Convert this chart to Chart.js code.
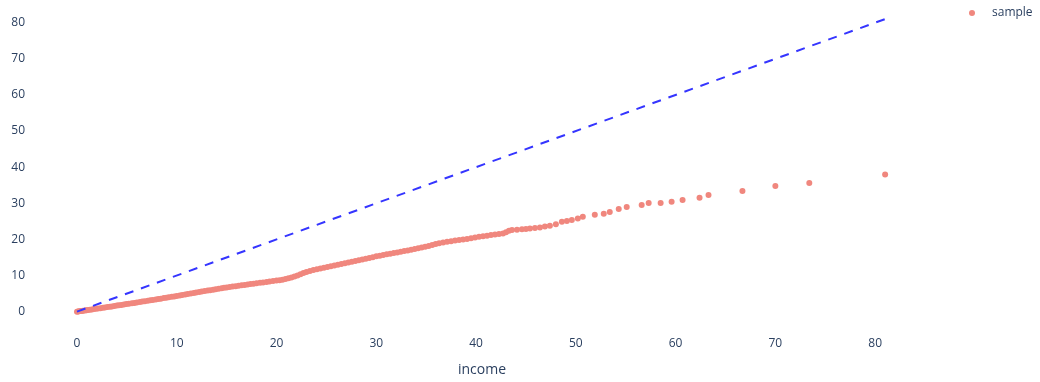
<!DOCTYPE html>
<html>
<head>
<meta charset="utf-8">
<script src="https://cdn.jsdelivr.net/npm/chart.js@4.4.1/dist/chart.umd.min.js"></script>
<style>
  html, body { margin: 0; padding: 0; background: #ffffff; }
  #wrap { width: 1040px; height: 382px; }
</style>
</head>
<body>
<div id="wrap"><canvas id="chart" width="1040" height="382"></canvas></div>
<script>
// Sorted income values against sample quantiles
const sampleIncome = [
  0.0, 0.1, 0.2, 0.35, 0.5, 0.6, 0.8, 0.95, 1.1, 1.3, 1.5, 1.7, 1.9, 2.1, 2.35, 2.6, 2.8, 3.05, 3.3, 3.5, 3.75, 4.0, 4.2, 4.45, 4.7, 4.95,
  5.2, 5.5, 5.75, 6.0, 6.3, 6.55, 6.8, 7.1, 7.35, 7.6, 7.9, 8.15, 8.4, 8.7, 8.95, 9.2, 9.5, 9.75, 10.0,
  10.3, 10.55, 10.85, 11.1, 11.4, 11.7, 11.95, 12.25, 12.5, 12.8, 13.1, 13.35, 13.65, 13.9, 14.2, 14.5, 14.75, 15.0,
  15.3, 15.6, 15.9, 16.2, 16.5, 16.8, 17.1, 17.4, 17.7, 18.0, 18.35, 18.65, 19.0, 19.3, 19.65, 20.0,
  20.3, 20.6, 20.9, 21.2, 21.5, 21.8, 22.1, 22.4, 22.7, 23.0,
  23.35, 23.7, 24.05, 24.4, 24.75, 25.1, 25.45, 25.8, 26.15, 26.5, 26.85, 27.2, 27.55, 27.9, 28.25, 28.6, 28.95, 29.3, 29.65, 30.0,
  30.35, 30.7, 31.05, 31.4, 31.75, 32.1, 32.45, 32.8, 33.15, 33.5, 33.85, 34.2, 34.55, 34.9, 35.25, 35.6, 35.95, 36.3,
  36.7, 37.1, 37.5, 37.9, 38.3, 38.7, 39.1, 39.5, 39.9, 40.3, 40.7, 41.1, 41.5, 41.9, 42.3,
  42.7, 43.0, 43.3, 43.6, 44.1, 44.6, 45.0, 45.4, 45.9, 46.4, 46.9, 47.4, 48.0, 48.6, 49.1, 49.6, 50.2, 50.7,
  51.9, 52.8, 53.4, 54.3, 55.1, 56.6, 57.3, 58.5, 59.6, 60.7, 62.4, 63.3, 66.7, 70.0, 73.4, 81.0
];
const sampleValues = [
  0.0, 0.04, 0.08, 0.14, 0.2, 0.25, 0.33, 0.4, 0.46, 0.54, 0.62, 0.7, 0.78, 0.86, 0.96, 1.06, 1.14, 1.25, 1.36, 1.45, 1.56, 1.67, 1.75, 1.86, 1.97, 2.08,
  2.18, 2.3, 2.42, 2.53, 2.66, 2.77, 2.88, 3.02, 3.13, 3.24, 3.38, 3.49, 3.6, 3.74, 3.86, 3.97, 4.1, 4.2, 4.3,
  4.45, 4.57, 4.72, 4.85, 5.0, 5.15, 5.27, 5.42, 5.54, 5.68, 5.82, 5.94, 6.08, 6.2, 6.34, 6.48, 6.6, 6.7,
  6.82, 6.93, 7.05, 7.16, 7.28, 7.39, 7.5, 7.62, 7.73, 7.85, 7.98, 8.09, 8.22, 8.34, 8.47, 8.6,
  8.72, 8.86, 9.02, 9.22, 9.45, 9.72, 10.02, 10.35, 10.68, 11.0,
  11.28, 11.52, 11.74, 11.95, 12.15, 12.35, 12.56, 12.77, 12.98, 13.19, 13.4, 13.61, 13.82, 14.03, 14.24, 14.45, 14.66, 14.87, 15.08, 15.3,
  15.5, 15.7, 15.88, 16.05, 16.22, 16.4, 16.58, 16.76, 16.95, 17.14, 17.34, 17.54, 17.74, 17.95, 18.2, 18.45, 18.7, 18.95,
  19.15, 19.32, 19.5, 19.66, 19.82, 19.98, 20.14, 20.32, 20.5, 20.7, 20.88, 21.04, 21.2, 21.34, 21.46,
  21.65, 22.0, 22.4, 22.6, 22.7, 22.8, 22.9, 23.0, 23.15, 23.3, 23.55, 23.8, 24.2, 24.9, 25.1, 25.4, 25.8, 26.3,
  26.8, 27.1, 27.6, 28.4, 29.0, 29.5, 30.1, 30.1, 30.4, 30.9, 31.5, 32.3, 33.4, 34.8, 35.6, 38.0
];

// Reference line y = x across the income range
const refLineX = [0, 81.2];
const refLineY = [0, 81.2];

const xTicks = [0, 10, 20, 30, 40, 50, 60, 70, 80];
const yTicks = [0, 10, 20, 30, 40, 50, 60, 70, 80];

const seriesName = 'sample';
const xTitle = 'income';

const fontFamily = '"Open Sans", "DejaVu Sans", Arial, sans-serif';
const textColor = '#2a3f5f';
const markerColor = '#f0877e';
const lineColor = '#3535ff';

const samplePoints = sampleIncome.map((x, i) => ({ x: x, y: sampleValues[i] }));
const linePoints = refLineX.map((x, i) => ({ x: x, y: refLineY[i] }));

// Legend entry drawn in the top-right margin
const sideLegend = {
  id: 'sideLegend',
  afterDraw(chart) {
    const ds = chart.data.datasets[1];
    const ctx = chart.ctx;
    const cx = chart.chartArea.right + 38;
    const cy = 13;
    ctx.save();
    ctx.fillStyle = ds.backgroundColor;
    ctx.beginPath();
    ctx.arc(cx, cy, 3, 0, Math.PI * 2);
    ctx.fill();
    ctx.fillStyle = textColor;
    ctx.font = '12px ' + fontFamily;
    ctx.textAlign = 'left';
    ctx.textBaseline = 'middle';
    ctx.fillText(ds.label, cx + 20, cy);
    ctx.restore();
  }
};

new Chart(document.getElementById('chart'), {
  type: 'scatter',
  data: {
    datasets: [
      {
        type: 'line',
        label: 'y = x',
        data: linePoints,
        borderColor: lineColor,
        borderWidth: 2,
        borderDash: [9, 8],
        pointRadius: 0,
        fill: false,
        order: 0
      },
      {
        label: seriesName,
        data: samplePoints,
        backgroundColor: markerColor,
        borderWidth: 0,
        pointRadius: 3,
        pointHoverRadius: 3,
        order: 1
      }
    ]
  },
  options: {
    responsive: false,
    devicePixelRatio: 1,
    animation: false,
    layout: { padding: { left: 0, top: 10, right: 106, bottom: 0 } },
    plugins: {
      legend: { display: false },
      tooltip: { enabled: false }
    },
    scales: {
      x: {
        type: 'linear',
        min: -4.71,
        max: 85.9,
        grid: { display: false, drawTicks: false },
        border: { display: false },
        afterBuildTicks: (scale) => { scale.ticks = xTicks.map(v => ({ value: v })); },
        afterFit: (scale) => { scale.height = 50; },
        ticks: {
          padding: 4,
          color: textColor,
          font: { family: fontFamily, size: 12 },
          maxRotation: 0
        },
        title: {
          display: true,
          text: xTitle,
          color: textColor,
          font: { family: fontFamily, size: 14 },
          padding: { top: 4, bottom: 4 }
        }
      },
      y: {
        type: 'linear',
        min: -5.64,
        max: 82.9,
        grid: { display: false, drawTicks: false },
        border: { display: false },
        afterBuildTicks: (scale) => { scale.ticks = yTicks.map(v => ({ value: v })); },
        afterFit: (scale) => { scale.width = 30; },
        ticks: {
          padding: 5,
          color: textColor,
          font: { family: fontFamily, size: 12 }
        }
      }
    }
  },
  plugins: [sideLegend]
});
</script>
</body>
</html>
